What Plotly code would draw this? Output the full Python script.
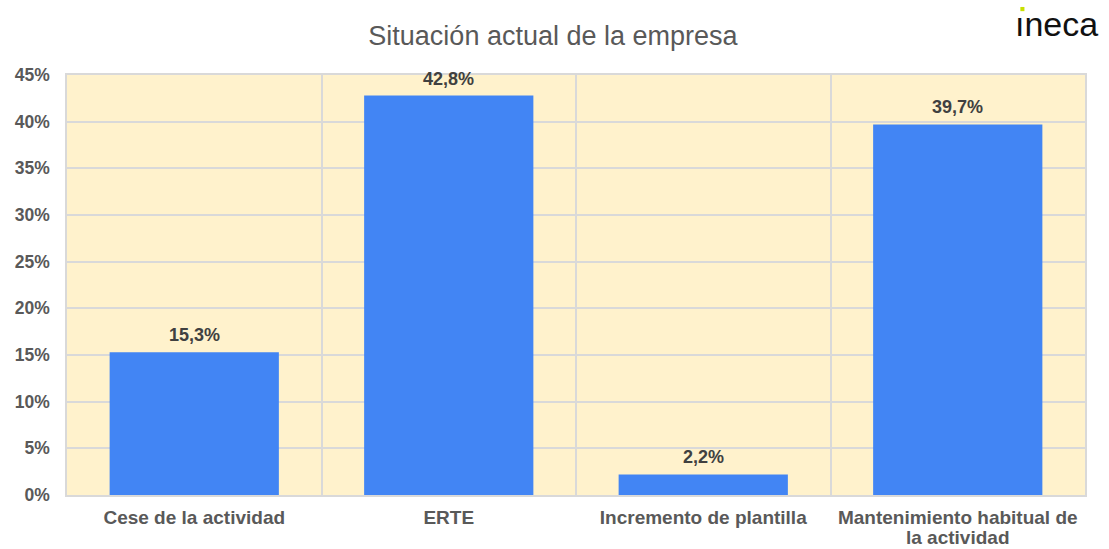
import plotly.graph_objects as go

categories = ["Cese de la actividad", "ERTE", "Incremento de plantilla",
              "Mantenimiento habitual de<br>la actividad"]
values = [15.3, 42.8, 2.2, 39.7]
title = "Situación actual de la empresa"

FONT = "Liberation Sans, Arial"

fig = go.Figure()
fig.add_trace(go.Bar(
    x=categories, y=values,
    marker=dict(color="#4285F4", line=dict(width=0)),
    width=0.665,
))

for c, v in zip(categories, values):
    fig.add_annotation(x=c, y=v, text="<b>" + f"{v:.1f}".replace(".", ",") + "%</b>",
                       showarrow=False, yanchor="bottom", yshift=5,
                       font=dict(family=FONT, size=18, color="#404040"))

# category labels: first line as tick text, further lines as tight annotations
first_lines = ["<b>" + c.split("<br>")[0] + "</b>" for c in categories]
for c in categories:
    parts = c.split("<br>")
    for extra in parts[1:]:
        fig.add_annotation(x=c, xref="x", yref="paper", y=-0.1286,
                           text="<b>" + extra + "</b>", showarrow=False,
                           yanchor="bottom", borderpad=0,
                           font=dict(family=FONT, size=19, color="#595959"))

fig.update_layout(
    width=1109, height=549,
    separators=",.",
    paper_bgcolor="white",
    plot_bgcolor="#FFF2CC",
    margin=dict(l=67, r=24, t=75, b=54, autoexpand=False),
    title=dict(text=title, x=0.4986, xanchor="center", xref="container",
               y=0.936, yanchor="middle", yref="container",
               font=dict(family=FONT, size=27, color="#595959")),
    showlegend=False,
)
fig.update_xaxes(
    automargin=False,
    tickmode="array", tickvals=categories, ticktext=first_lines,
    tickson="boundaries", showgrid=True, gridcolor="#D9D9D9", gridwidth=1.5,
    showline=True, linecolor="#D9D9D9", linewidth=1.5, mirror=True,
    ticks="", ticklabelstandoff=4,
    tickfont=dict(family=FONT, size=19, color="#595959"),
)
fig.update_yaxes(
    automargin=False,
    range=[0, 45], dtick=5, ticksuffix="%",
    showgrid=True, gridcolor="#D9D9D9", gridwidth=1.5,
    showline=True, linecolor="#D9D9D9", linewidth=1.5, mirror=True,
    zeroline=False, ticks="", ticklabelstandoff=12,
    tickfont=dict(family=FONT, size=17.5, color="#595959"),
    tickprefix="<b>",
)

# logo
fig.add_annotation(text="ıneca", xref="paper", yref="paper", x=1.0147, y=1.121,
                   xanchor="right", yanchor="middle", showarrow=False,
                   font=dict(family=FONT, size=34, color="#111111"))
fig.add_shape(type="rect", xref="paper", yref="paper",
              x0=0.9365, x1=0.9405, y0=1.152, y1=1.162,
              fillcolor="#C8E000", line=dict(width=0))

fig.write_html("out.html", config={"displayModeBar": False},
               post_script="document.body.style.margin='0';")
